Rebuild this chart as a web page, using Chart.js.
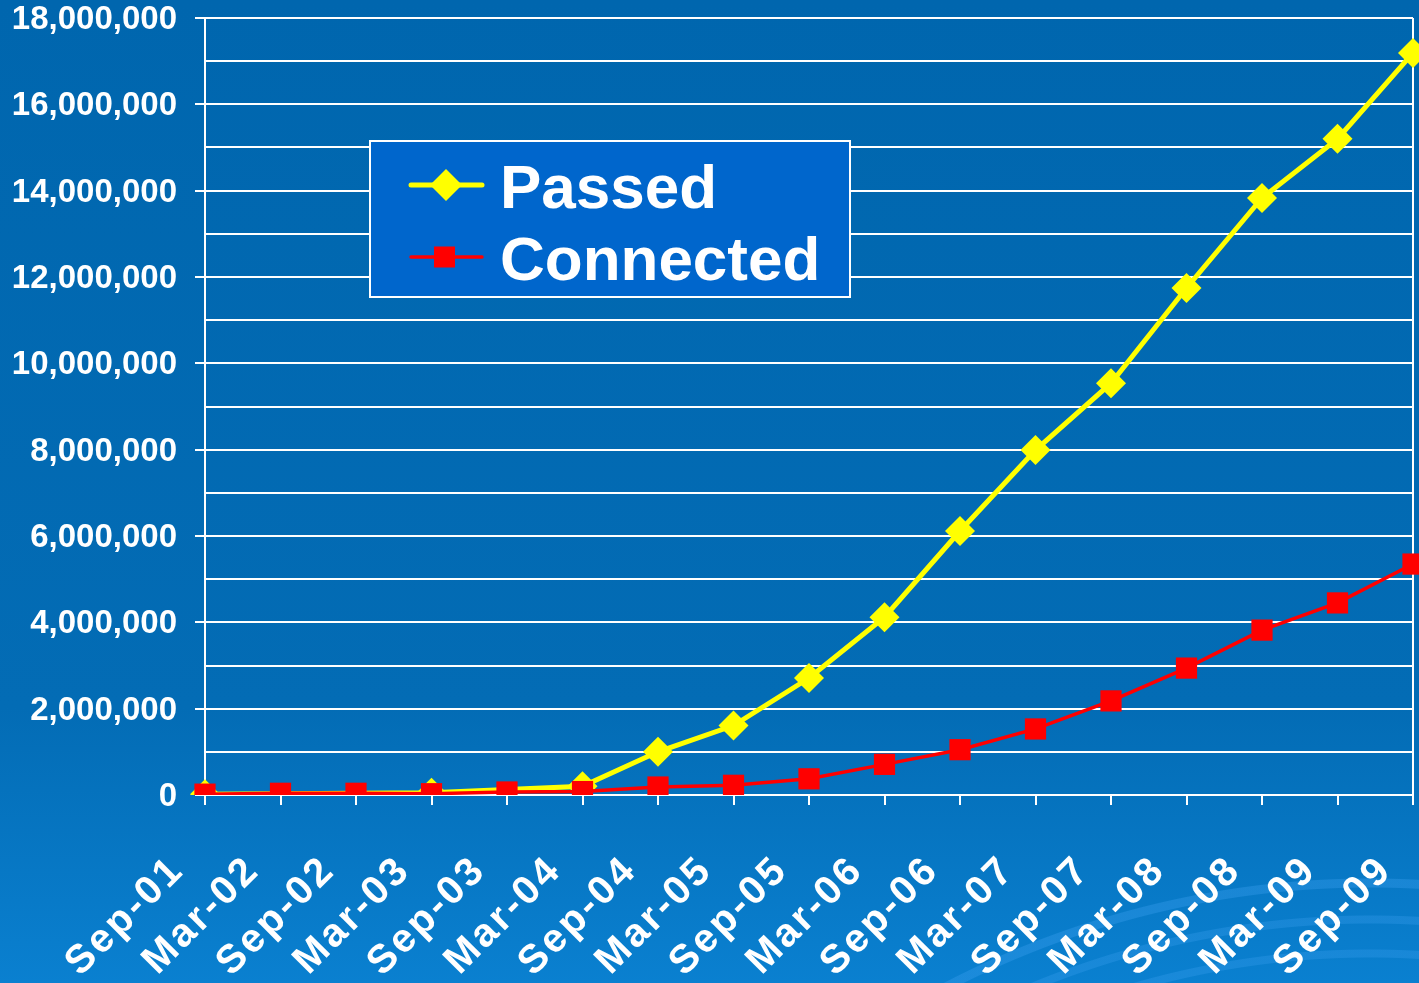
<!DOCTYPE html>
<html>
<head>
<meta charset="utf-8">
<script src="https://cdn.jsdelivr.net/npm/chart.js@4.4.1/dist/chart.umd.min.js"></script>
<style>
  html, body { margin: 0; padding: 0; width: 1419px; height: 983px; overflow: hidden; }
  body {
    background:
      radial-gradient(circle at 1370px 1800px, transparent 0 842px, rgba(60,160,240,0.30) 843px 850px, transparent 851px 876px, rgba(60,160,240,0.30) 877px 884px, transparent 885px 912px, rgba(60,160,240,0.35) 913px 921px, transparent 922px),
      linear-gradient(to bottom, #0066ae 0%, #036cb5 72%, #0a80d0 100%);
  }
  #wrap { position: absolute; left: 0; top: 0; width: 1419px; height: 983px; }
</style>
</head>
<body>
<div id="wrap"><canvas id="c" width="1419" height="983"></canvas></div>
<script>
// ---- data ----
const categories = ['Sep-01','Mar-02','Sep-02','Mar-03','Sep-03','Mar-04','Sep-04','Mar-05','Sep-05','Mar-06','Sep-06','Mar-07','Sep-07','Mar-08','Sep-08','Mar-09','Sep-09'];
const passedValues = [20000, null, null, 50000, null, 200000, 1000000, 1610000, 2710000, 4120000, 6115000, 7990000, 9540000, 11745000, 13830000, 15200000, 17190000];
const connectedValues = [20000, 40000, 40000, 30000, 70000, 80000, 185000, 225000, 375000, 710000, 1050000, 1530000, 2180000, 2940000, 3820000, 4450000, 5350000];
const seriesNames = ['Passed', 'Connected'];
const yMin = 0, yMax = 18000000, yStep = 1000000, yLabelStep = 2000000;

const FONT = '"Liberation Sans", Arial, Helvetica, sans-serif';
const X_LETTER_SPACING = '3px';

const legendPlugin = {
  id: 'boxLegend',
  afterDatasetsDraw(chart) {
    const ctx = chart.ctx;
    const bx = 370, by = 141, bw = 480, bh = 156;
    ctx.save();
    ctx.fillStyle = '#0066cc';
    ctx.fillRect(bx, by, bw, bh);
    ctx.strokeStyle = '#ffffff';
    ctx.lineWidth = 2;
    ctx.strokeRect(bx, by, bw, bh);
    const rows = [185, 257];
    chart.data.datasets.forEach((ds, i) => {
      const y = rows[i];
      ctx.strokeStyle = ds.borderColor;
      ctx.lineWidth = i === 0 ? 5 : 3.5;
      ctx.lineCap = 'round';
      ctx.beginPath();
      ctx.moveTo(411, y); ctx.lineTo(482, y);
      ctx.stroke();
      ctx.fillStyle = ds.pointBackgroundColor;
      ctx.beginPath();
      if (ds.pointStyle === 'rectRot') {
        const r = 16;
        ctx.moveTo(446, y - r); ctx.lineTo(446 + r, y); ctx.lineTo(446, y + r); ctx.lineTo(446 - r, y);
        ctx.closePath();
      } else {
        ctx.rect(434, y - 10.5, 21, 21);
      }
      ctx.fill();
      ctx.fillStyle = '#ffffff';
      ctx.font = 'bold 62px ' + FONT;
      ctx.textBaseline = 'alphabetic';
      ctx.textAlign = 'left';
      ctx.fillText(ds.label, 500, i === 0 ? 208 : 280);
    });
    ctx.restore();
  }
};

const lastIndex = categories.length - 1;

const chart = new Chart(document.getElementById('c'), {
  type: 'line',
  data: {
    labels: categories,
    datasets: [
      {
        label: seriesNames[0],
        data: passedValues,
        borderColor: '#ffff00',
        backgroundColor: '#ffff00',
        pointBackgroundColor: '#ffff00',
        pointBorderColor: '#ffff00',
        pointStyle: 'rectRot',
        pointRadius: 15,
        pointBorderWidth: 0,
        borderWidth: 5,
        spanGaps: true,
        tension: 0,
        order: 1
      },
      {
        label: seriesNames[1],
        data: connectedValues,
        borderColor: '#ff0000',
        backgroundColor: '#ff0000',
        pointBackgroundColor: '#ff0000',
        pointBorderColor: '#ff0000',
        pointStyle: 'rect',
        pointRadius: 15,
        pointBorderWidth: 0,
        borderWidth: 3.5,
        tension: 0,
        order: 0
      }
    ]
  },
  options: {
    responsive: false,
    animation: false,
    devicePixelRatio: 1,
    layout: { autoPadding: false, padding: { left: 0, top: 18, right: 6, bottom: 0 } },
    plugins: { legend: { display: false }, tooltip: { enabled: false } },
    scales: {
      x: {
        offset: false,
        grid: {
          display: true,
          drawOnChartArea: true,
          drawTicks: true,
          tickLength: 10,
          lineWidth: 2,
          color: (c) => (c.index === lastIndex ? '#ffffff' : 'rgba(0,0,0,0)'),
          tickColor: '#ffffff',
          tickWidth: 2
        },
        border: { display: true, color: '#ffffff', width: 2 },
        ticks: {
          autoSkip: false,
          maxRotation: 45,
          minRotation: 45,
          padding: 42,
          labelOffset: -27,
          color: '#ffffff',
          font: { family: FONT, size: 40, weight: 'bold' }
        },
        afterFit(scale) {
          scale.height = 188;
          scale.paddingLeft = 0;
          scale.paddingRight = 0;
        }
      },
      y: {
        min: yMin,
        max: yMax,
        grid: {
          drawTicks: true,
          tickLength: 10,
          lineWidth: 2,
          color: '#ffffff',
          tickColor: (c) => (c.tick && c.tick.value % yLabelStep === 0 ? '#ffffff' : 'rgba(0,0,0,0)'),
          tickWidth: 2
        },
        border: { display: true, color: '#ffffff', width: 2 },
        ticks: {
          stepSize: yStep,
          padding: 18,
          labelOffset: 2,
          color: '#ffffff',
          font: { family: FONT, size: 33, weight: 'bold' },
          callback: (v) => (v % yLabelStep === 0 ? Number(v).toLocaleString('en-US') : '')
        },
        afterFit(scale) {
          scale.width = 205;
          scale.paddingTop = 0;
          scale.paddingBottom = 0;
        }
      }
    }
  },
  plugins: [legendPlugin]
});

// widen letter spacing of the category labels, still drawn by the x scale itself
const xs = chart.scales.x;
const origDrawLabels = xs.drawLabels.bind(xs);
xs.drawLabels = function (area) {
  const c = this.ctx;
  const has = 'letterSpacing' in c;
  const prev = has ? c.letterSpacing : null;
  if (has) c.letterSpacing = X_LETTER_SPACING;
  origDrawLabels(area);
  if (has) c.letterSpacing = prev;
};
chart.draw();
</script>
</body>
</html>
